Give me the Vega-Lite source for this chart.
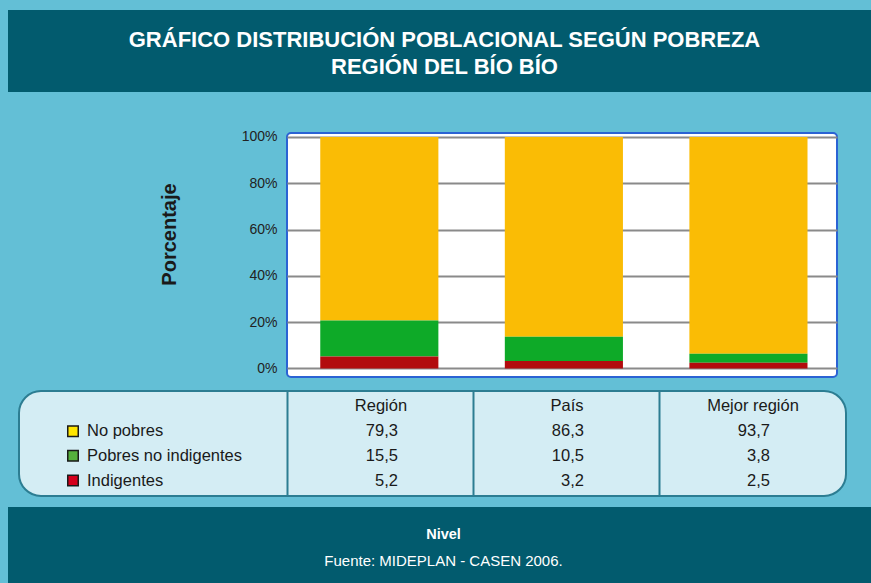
{
  "$schema": "https://vega.github.io/schema/vega-lite/v6.json",
  "background": "#63BFD6",
  "padding": {"left": 8, "top": 10, "right": 0, "bottom": 0},
  "datasets": {
    "pobreza": [
      {"nivel": "Región", "serie": "No pobres", "valor": 79.3, "orden": 3},
      {"nivel": "Región", "serie": "Pobres no indigentes", "valor": 15.5, "orden": 2},
      {"nivel": "Región", "serie": "Indigentes", "valor": 5.2, "orden": 1},
      {"nivel": "País", "serie": "No pobres", "valor": 86.3, "orden": 3},
      {"nivel": "País", "serie": "Pobres no indigentes", "valor": 10.5, "orden": 2},
      {"nivel": "País", "serie": "Indigentes", "valor": 3.2, "orden": 1},
      {"nivel": "Mejor región", "serie": "No pobres", "valor": 93.7, "orden": 3},
      {"nivel": "Mejor región", "serie": "Pobres no indigentes", "valor": 3.8, "orden": 2},
      {"nivel": "Mejor región", "serie": "Indigentes", "valor": 2.5, "orden": 1}
    ],
    "titulo": [
      {"linea": 1, "texto": "GRÁFICO DISTRIBUCIÓN POBLACIONAL SEGÚN POBREZA"},
      {"linea": 2, "texto": "REGIÓN DEL BÍO BÍO"}
    ],
    "pie": [
      {"linea": 1, "texto": "Nivel"},
      {"linea": 2, "texto": "Fuente: MIDEPLAN - CASEN 2006."}
    ],
    "eje": [{"texto": "Porcentaje"}],
    "vacio": []
  },
  "concat": [
    {
      "data": {"name": "titulo"},
      "width": 863,
      "height": 82,
      "view": {"fill": "#025B6E", "stroke": null},
      "mark": {"type": "text", "font": "Liberation Sans", "fontWeight": "bold", "fontSize": 22, "color": "#FFFFFF", "dx": 5, "baseline": "middle"},
      "encoding": {
        "y": {"field": "linea", "type": "ordinal", "scale": {"type": "point", "padding": 1.077, "align": 0.54}, "axis": null},
        "text": {"field": "texto"}
      }
    },
    {
      "concat": [
        {
          "hconcat": [
            {
              "data": {"name": "eje"},
              "width": 232,
              "height": 244,
              "mark": {"type": "text", "angle": 270, "fontSize": 20, "fontWeight": "bold", "font": "Liberation Sans", "color": "#1A1A1A", "baseline": "middle"},
              "encoding": {
                "x": {"field": "texto", "type": "nominal", "scale": {"type": "point", "align": 0.7}, "axis": null},
                "y": {"field": "texto", "type": "nominal", "scale": {"type": "point", "align": 0.416}, "axis": null},
                "text": {"field": "texto"}
              }
            },
            {
              "data": {"name": "pobreza"},
              "width": 550,
              "height": 244,
              "view": {"fill": "#FFFFFF", "stroke": "#2B63D4", "strokeWidth": 2, "cornerRadius": 4},
              "mark": {"type": "bar"},
              "encoding": {
                "x": {"field": "nivel", "type": "nominal", "sort": ["Región", "País", "Mejor región"], "scale": {"paddingInner": 0.36, "paddingOuter": 0.17, "align": 0.53}, "axis": null},
                "y": {
                  "field": "valor", "type": "quantitative", "stack": "normalize",
                  "scale": {"domain": [-0.037, 1.017], "nice": false, "zero": false},
                  "axis": {"values": [0, 0.2, 0.4, 0.6, 0.8, 1], "format": ".0%", "title": null, "grid": true, "gridColor": "#8A8A8A", "gridWidth": 2, "domain": false, "ticks": false, "labelPadding": 10, "labelFont": "Liberation Sans", "labelFontSize": 14, "labelColor": "#222222"}
                },
                "color": {"field": "serie", "type": "nominal", "scale": {"domain": ["No pobres", "Pobres no indigentes", "Indigentes"], "range": ["#FABC05", "#0EAA28", "#B20C0E"]}, "legend": null},
                "order": {"field": "orden", "type": "quantitative"}
              }
            }
          ],
          "spacing": 0
        },
        {
          "concat": [
            {
              "hconcat": [
                {
                  "data": {"name": "vacio"},
                  "width": 1,
                  "height": 105,
                  "mark": {"type": "point"},
                  "encoding": {}
                },
                {
                  "width": 827,
                  "height": 105,
                  "view": {"fill": "#D4EDF4", "stroke": "#2C7D92", "strokeWidth": 2, "cornerRadius": 22},
                  "layer": [
                    {
                      "layer": [
                        {
                          "data": {"name": "pobreza"},
                          "mark": {"type": "text", "align": "right", "dx": 17, "fontSize": 16.5, "font": "Liberation Sans", "color": "#1A1A1A", "baseline": "middle"},
                          "encoding": {
                            "x": {
                              "field": "nivel", "type": "nominal", "sort": ["Región", "País", "Mejor región"],
                              "scale": {"type": "band", "paddingInner": 0, "paddingOuter": 0.7231, "align": 1},
                              "axis": {"grid": true, "gridColor": "#2C7D92", "gridWidth": 2, "bandPosition": 0, "labels": false, "ticks": false, "domain": false, "title": null}
                            },
                            "y": {
                              "field": "serie", "type": "nominal",
                              "scale": {"type": "point", "domain": ["Nivel", "No pobres", "Pobres no indigentes", "Indigentes"], "padding": 0.628},
                              "axis": null
                            },
                            "text": {"field": "valor", "type": "quantitative", "format": ".1f"}
                          }
                        },
                        {
                          "data": {"name": "pobreza"},
                          "transform": [{"filter": "datum.serie === 'No pobres'"}],
                          "mark": {"type": "text", "fontSize": 16.5, "font": "Liberation Sans", "color": "#1A1A1A", "baseline": "middle"},
                          "encoding": {
                            "x": {"field": "nivel", "type": "nominal", "sort": ["Región", "País", "Mejor región"]},
                            "y": {"datum": "Nivel", "type": "nominal", "axis": null},
                            "text": {"field": "nivel"}
                          }
                        }
                      ]
                    },
                    {
                      "layer": [
                        {
                          "data": {"name": "pobreza"},
                          "transform": [{"filter": "datum.nivel === 'Región'"}],
                          "mark": {"type": "point", "shape": "square", "filled": true, "size": 110, "stroke": "#1A1A1A", "strokeWidth": 1.5, "opacity": 1},
                          "encoding": {
                            "x": {"datum": "leyenda", "type": "nominal", "scale": {"type": "point", "align": 0.0653}, "axis": null},
                            "y": {"field": "serie", "type": "nominal", "axis": null},
                            "color": {"field": "serie", "type": "nominal", "scale": {"domain": ["No pobres", "Pobres no indigentes", "Indigentes"], "range": ["#FFE600", "#55B03C", "#D4001C"]}, "legend": null}
                          }
                        },
                        {
                          "data": {"name": "pobreza"},
                          "transform": [{"filter": "datum.nivel === 'Región'"}],
                          "mark": {"type": "text", "align": "left", "dx": 14, "fontSize": 16.5, "font": "Liberation Sans", "color": "#1A1A1A", "baseline": "middle"},
                          "encoding": {
                            "x": {"datum": "leyenda", "type": "nominal"},
                            "y": {"field": "serie", "type": "nominal", "axis": null},
                            "text": {"field": "serie"}
                          }
                        }
                      ]
                    }
                  ],
                  "resolve": {"scale": {"x": "independent"}}
                }
              ],
              "spacing": 9
            },
            {
              "data": {"name": "pie"},
              "width": 863,
              "height": 76,
              "view": {"fill": "#025B6E", "stroke": null},
              "layer": [
                {
                  "transform": [{"filter": "datum.linea === 1"}],
                  "mark": {"type": "text", "font": "Liberation Sans", "fontWeight": "bold", "fontSize": 14.5, "color": "#FFFFFF", "dx": 4, "baseline": "middle"},
                  "encoding": {
                    "y": {"field": "linea", "type": "ordinal", "scale": {"type": "point", "domain": [1, 2], "padding": 1.19, "align": 0.56}, "axis": null},
                    "text": {"field": "texto"}
                  }
                },
                {
                  "transform": [{"filter": "datum.linea === 2"}],
                  "mark": {"type": "text", "font": "Liberation Sans", "fontSize": 15, "color": "#FFFFFF", "dx": 4, "baseline": "middle"},
                  "encoding": {
                    "y": {"field": "linea", "type": "ordinal"},
                    "text": {"field": "texto"}
                  }
                }
              ]
            }
          ],
          "columns": 1,
          "align": "none",
          "spacing": 10
        }
      ],
      "columns": 1,
      "align": "none",
      "spacing": 12,
      "resolve": {"scale": {"color": "independent"}}
    }
  ],
  "columns": 1,
  "align": "none",
  "spacing": 36,
  "config": {
    "view": {"stroke": null},
    "concat": {"spacing": 0},
    "font": "Liberation Sans",
    "locale": {"number": {"decimal": ",", "thousands": ".", "grouping": [3], "currency": ["$", ""]}}
  }
}
